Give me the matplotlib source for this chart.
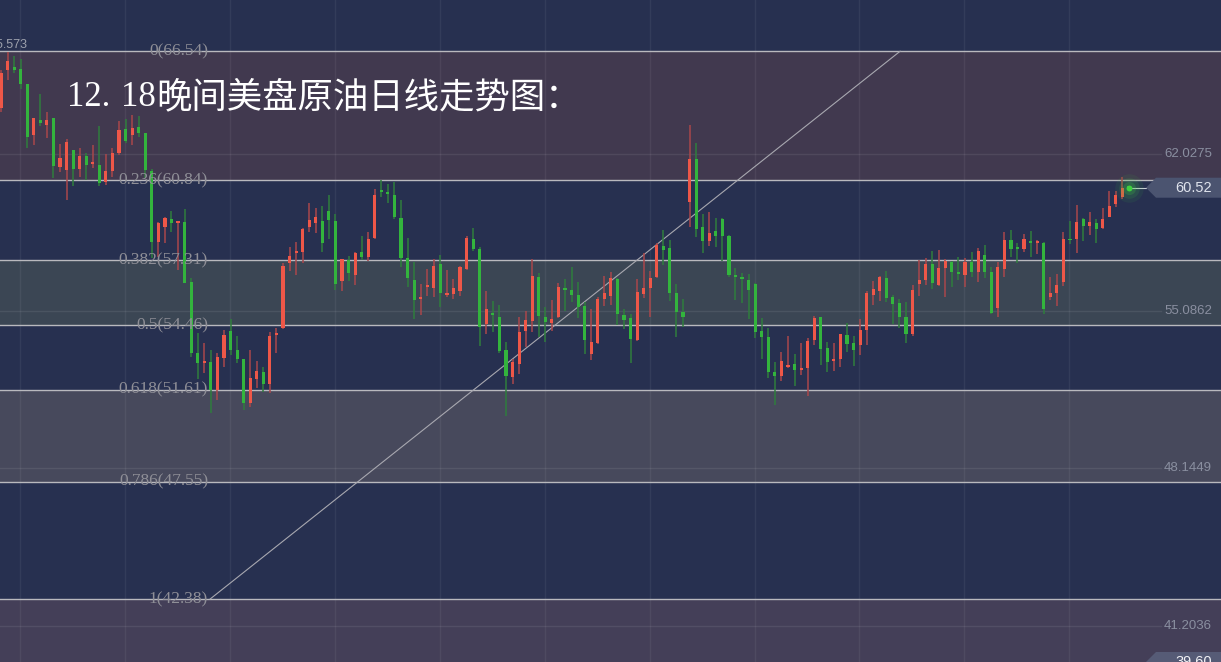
import matplotlib
matplotlib.use("Agg")
import matplotlib.pyplot as plt
import matplotlib.transforms as mtransforms
from matplotlib.patches import Polygon
import numpy as np

# daily candles, oldest first (price values)
opens = [64.04, 65.71, 65.84, 65.75, 65.09, 62.85, 63.51, 63.29, 63.60, 61.43,
         61.30, 62.18, 61.34, 61.92, 61.56, 61.52, 60.77, 61.26, 62.05, 63.11,
         62.85, 63.20, 62.93, 61.26, 58.12, 58.79, 59.14, 58.97, 59.01, 56.36,
         53.23, 52.79, 52.83, 51.60, 52.99, 54.20, 53.36, 52.96, 51.03, 52.08,
         52.39, 51.86, 54.02, 54.33, 57.20, 57.64, 57.68, 58.79, 58.97, 59.05,
         59.50, 59.05, 56.40, 57.33, 56.67, 57.68, 57.46, 58.30, 60.37, 60.33,
         60.20, 59.19, 57.42, 56.45, 55.61, 56.14, 56.10, 57.16, 55.79, 55.83,
         55.96, 56.93, 58.26, 57.82, 54.51, 55.00, 54.82, 53.36, 52.17, 52.74,
         54.20, 54.64, 56.58, 54.82, 54.55, 54.82, 56.05, 56.01, 55.79, 55.30,
         53.18, 53.67, 55.61, 55.74, 56.49, 54.91, 54.78, 53.80, 55.83, 56.10,
         56.58, 57.95, 57.86, 55.88, 55.04, 59.89, 61.79, 58.79, 58.17, 58.61,
         59.14, 58.39, 56.63, 56.58, 56.45, 56.27, 54.20, 53.93, 52.39, 52.21,
         52.61, 52.74, 52.48, 52.57, 53.80, 54.82, 53.45, 52.88, 52.96, 54.02,
         53.67, 53.58, 54.24, 55.79, 55.96, 56.54, 55.70, 55.44, 54.82, 54.07,
         56.27, 56.45, 57.16, 56.23, 56.98, 57.24, 56.80, 56.67, 57.24, 56.80,
         57.55, 56.80, 55.21, 56.93, 58.21, 57.86, 57.82, 58.17, 58.08, 58.08,
         55.70, 55.88, 56.36, 58.26, 58.26, 59.14, 58.83, 58.97, 58.74, 59.23,
         59.80, 60.11, 60.55]
highs = [65.71, 66.50, 66.33, 66.19, 65.09, 63.60, 64.65, 63.86, 63.60, 62.45,
         62.66, 62.18, 62.27, 62.05, 62.40, 63.25, 62.01, 62.27, 63.46, 63.55,
         63.73, 63.68, 62.93, 61.34, 59.01, 59.23, 59.50, 59.05, 59.58, 56.54,
         54.11, 53.67, 53.36, 53.23, 54.24, 54.73, 53.98, 52.96, 53.36, 52.88,
         52.61, 54.15, 54.33, 57.20, 57.90, 58.12, 58.74, 59.85, 59.63, 59.71,
         60.20, 59.36, 57.37, 57.51, 57.68, 58.39, 58.57, 60.46, 60.86, 60.68,
         60.77, 59.98, 58.30, 57.24, 56.27, 56.93, 57.37, 57.55, 56.89, 56.49,
         57.07, 58.39, 58.74, 57.90, 55.96, 55.52, 55.35, 53.71, 52.96, 54.82,
         55.08, 57.37, 56.76, 55.26, 55.57, 56.31, 56.49, 57.02, 56.36, 55.48,
         55.17, 55.70, 56.63, 56.80, 56.54, 55.17, 54.95, 56.49, 57.64, 56.85,
         58.08, 58.65, 58.21, 56.27, 55.61, 63.29, 62.49, 59.36, 59.45, 59.19,
         59.19, 58.43, 56.98, 56.76, 56.71, 56.31, 54.78, 54.33, 52.83, 53.27,
         53.98, 53.18, 53.67, 53.89, 54.86, 54.82, 53.71, 53.67, 54.07, 54.55,
         53.98, 54.73, 55.96, 56.40, 56.63, 56.85, 55.79, 55.61, 55.48, 56.23,
         57.33, 57.42, 57.73, 57.77, 57.37, 57.29, 57.46, 57.42, 57.68, 57.86,
         57.99, 57.02, 57.24, 58.57, 58.65, 58.08, 58.48, 58.61, 58.21, 58.12,
         56.58, 56.71, 58.57, 59.05, 59.76, 59.19, 59.45, 59.14, 59.63, 60.37,
         60.37, 60.99, 60.58]
lows = [63.86, 65.27, 65.58, 64.87, 62.27, 62.40, 63.25, 62.71, 60.95, 61.21,
        59.98, 60.60, 60.99, 60.86, 61.39, 60.60, 60.64, 60.99, 61.96, 62.49,
        62.40, 62.76, 60.95, 57.42, 57.46, 58.08, 58.57, 56.89, 56.30, 53.05,
        52.08, 52.35, 50.58, 51.16, 52.61, 53.14, 52.79, 50.71, 50.85, 51.69,
        51.51, 51.47, 53.23, 54.29, 56.85, 56.67, 57.20, 58.57, 58.52, 57.68,
        58.26, 56.01, 55.96, 56.40, 56.23, 57.33, 57.29, 58.26, 60.11, 59.85,
        59.14, 57.02, 56.14, 54.73, 54.91, 55.74, 55.70, 55.26, 55.70, 55.61,
        55.74, 56.89, 57.73, 53.54, 54.07, 54.15, 53.23, 50.45, 51.86, 52.30,
        53.49, 54.15, 53.93, 53.71, 54.20, 54.78, 55.08, 55.48, 54.78, 53.18,
        52.92, 53.62, 55.30, 55.35, 54.46, 54.29, 52.79, 53.76, 55.66, 54.82,
        56.54, 57.11, 55.52, 53.93, 54.38, 58.79, 58.35, 57.64, 57.95, 57.90,
        57.29, 56.58, 55.57, 55.44, 54.73, 53.89, 52.96, 52.13, 50.93, 51.99,
        52.57, 51.78, 52.26, 51.34, 53.58, 52.70, 52.39, 52.44, 52.61, 53.27,
        52.66, 53.14, 53.58, 55.35, 55.52, 55.48, 54.51, 54.33, 53.67, 53.98,
        55.74, 56.23, 56.05, 56.18, 55.70, 56.14, 56.45, 56.14, 56.58, 56.36,
        56.54, 54.95, 54.82, 56.58, 57.46, 57.20, 57.68, 57.46, 57.60, 54.95,
        55.57, 55.30, 56.18, 58.03, 57.64, 58.17, 58.43, 58.08, 58.70, 59.23,
        59.67, 60.02, 60.48]
closes = [65.58, 66.11, 65.71, 65.09, 62.76, 63.60, 63.38, 63.51, 61.48, 61.83,
          62.53, 61.34, 61.92, 61.52, 61.65, 60.73, 61.26, 62.05, 63.07, 62.58,
          63.16, 62.93, 61.30, 58.12, 58.97, 59.19, 58.97, 59.05, 56.31, 53.23,
          52.79, 52.83, 51.60, 53.05, 54.02, 53.36, 52.96, 51.03, 52.13, 52.44,
          51.86, 53.98, 54.11, 57.07, 57.51, 57.68, 58.70, 59.10, 59.23, 58.08,
          59.10, 56.27, 57.37, 56.76, 57.64, 57.46, 58.26, 60.20, 60.33, 60.24,
          59.23, 57.42, 56.54, 55.57, 55.70, 56.18, 57.07, 55.88, 55.83, 56.10,
          57.02, 58.30, 57.82, 54.38, 55.17, 54.91, 53.32, 52.21, 52.83, 54.15,
          54.69, 56.63, 54.86, 54.60, 54.73, 56.14, 56.01, 55.79, 55.26, 53.80,
          53.71, 55.61, 55.88, 56.54, 54.95, 54.69, 53.85, 55.92, 56.10, 56.54,
          57.99, 57.77, 55.88, 55.04, 54.82, 61.79, 58.70, 58.17, 58.52, 58.39,
          58.39, 56.67, 56.58, 56.49, 56.01, 54.15, 53.93, 52.39, 52.21, 52.88,
          52.70, 52.48, 52.57, 53.76, 54.78, 53.41, 52.83, 52.96, 54.07, 53.62,
          53.36, 54.24, 55.88, 56.05, 56.58, 55.66, 55.39, 54.82, 54.07, 56.01,
          56.45, 57.16, 56.31, 56.98, 57.29, 56.80, 56.71, 57.24, 56.80, 57.73,
          56.80, 55.00, 57.02, 58.21, 57.82, 57.82, 58.26, 58.08, 58.17, 55.17,
          55.88, 56.23, 58.26, 58.21, 59.01, 58.83, 59.01, 58.70, 59.14, 59.71,
          60.20, 60.51, 60.52]

fib_ratios = ["0", "0.236", "0.382", "0.5", "0.618", "0.786", "1"]
fib_prices = [66.54, 60.84, 57.31, 54.46, 51.61, 47.55, 42.38]
fib_anchor_idx = [31.9, 137.1]          # candle index of the fib tool's low / high anchor
axis_prices = [68.9687, 62.0275, 55.0862, 48.1449, 41.2036]
axis_labels = ["68.9687", "62.0275", "55.0862", "48.1449", "41.2036"]
last_price = 60.52
bottom_price = 39.60
top_price = 68.80
high_label = "65.573"
title_parts = ["12.", "18", "晚间美盘原油日线走势图："]

NAVY = "#273050"
band_colors = ["#41394f", NAVY, "#3b4654", NAVY, "#47495c", NAVY]
below_color = "#443f58"

W, H = 1221, 662
fig = plt.figure(figsize=(W / 100, H / 100), dpi=100, facecolor=NAVY)
ax = fig.add_axes([0, 0, 1, 1], facecolor=NAVY)
n = len(opens)
xs = np.arange(n)
ax.set_xlim(-0.15, 186.03)
ax.set_ylim(bottom_price, top_price)
for s in ax.spines.values():
    s.set_visible(False)
ax.set_xticks([])
ax.set_yticks([])
blend = mtransforms.blended_transform_factory(ax.transAxes, ax.transData)

# fib bands
for top, bot, c in zip(fib_prices[:-1], fib_prices[1:], band_colors):
    ax.axhspan(bot, top, color=c, lw=0, zorder=0)
ax.axhspan(bottom_price, fib_prices[-1], color=below_color, lw=0, zorder=0)

# faint grid
for gx in np.arange(2.9, n, 16):
    ax.axvline(gx, color="white", alpha=0.06, lw=1, zorder=0.5)
for p in axis_prices:
    ax.plot([0, 0.951], [p, p], transform=blend, color="white", alpha=0.08,
            lw=1, zorder=0.5)

# candles (red = up, green = down)
o = np.array(opens)
c = np.array(closes)
up = c >= o
body_cols = np.where(up, "#ee5748", "#33b43d")
wick_cols = np.where(up, "#a9474b", "#2f7d3d")
ax.vlines(xs, lows, highs, colors=wick_cols, lw=1.1, zorder=2)
ax.bar(xs, np.maximum(np.abs(c - o), 0.07), bottom=np.minimum(o, c), width=0.48,
       color=body_cols, lw=0, zorder=3)

# fib levels
for r, p in zip(fib_ratios, fib_prices):
    ax.axhline(p, color="#b9b9be", lw=1, zorder=1.5)
    ax.text(208 / W, p, f"{r}({p:.2f})", transform=blend, ha="right", va="center",
            color="#8f8f97", fontsize=12.5, family="Liberation Serif", zorder=4)
ax.plot(fib_anchor_idx, [fib_prices[-1], fib_prices[0]], color="#a8a8b0", lw=0.8,
        zorder=1.6)

# right price scale labels
for p, lbl in zip(axis_prices, axis_labels):
    ax.text(0.9925, p, lbl, transform=blend, ha="right", va="center",
            color="#8a8fa0", fontsize=9.5, family="Liberation Sans", zorder=5,
            clip_on=False)


def price_tag(price, fc, tc):
    hh = 10 / H * (top_price - bottom_price)
    pts = [(1146 / W, price), (1156 / W, price + hh), (1.0, price + hh),
           (1.0, price - hh), (1156 / W, price - hh)]
    ax.add_patch(Polygon(pts, closed=True, transform=blend, fc=fc, ec="none",
                         zorder=5, clip_on=False))
    ax.text(0.9925, price, f"{price:.2f}", transform=blend, ha="right", va="center",
            color=tc, fontsize=10.5, family="Liberation Sans", zorder=6)


price_tag(last_price, "#4b5470", "#dfe3ec")
price_tag(bottom_price, "#565b76", "#f0f0f4")

# current price marker
tip_x = -0.15 + 1146 / W * (186.03 + 0.15)
ax.plot([n - 1, tip_x], [last_price, last_price], color="#c9cdd7", lw=0.8, zorder=4)
for s, a in [(420, 0.08), (220, 0.12), (90, 0.2)]:
    ax.scatter([n - 1], [last_price], s=s, color="#3fd13f", alpha=a, lw=0, zorder=4)
ax.scatter([n - 1], [last_price], s=18, color="#3fd13f", lw=0, zorder=5)

ax.text(27 / W, 1 - 44.5 / H, high_label, transform=ax.transAxes, ha="right",
        va="center", color="#9da1ad", fontsize=9, family="Liberation Sans", zorder=5)

# title (date set with the wide full-stop gap seen in the original font)
ty = 1 - 97 / H
ax.text(67 / W, ty, title_parts[0], transform=ax.transAxes, ha="left", va="center",
        color="white", fontsize=25, family="Liberation Serif", zorder=6)
ax.text(121 / W, ty, title_parts[1], transform=ax.transAxes, ha="left", va="center",
        color="white", fontsize=25, family="Liberation Serif", zorder=6)
ax.text(156 / W, ty, title_parts[2], transform=ax.transAxes, ha="left", va="center",
        color="white", fontsize=25.5, family=["Noto Sans CJK SC", "DejaVu Sans"],
        zorder=6)

fig.savefig("out.png", dpi=100, facecolor=NAVY)
